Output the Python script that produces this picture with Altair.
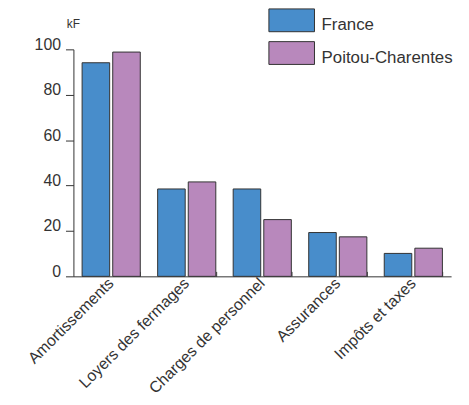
import altair as alt
import pandas as pd

categories = ["Amortissements", "Loyers des fermages", "Charges de personnel",
              "Assurances", "Impôts et taxes"]
france = [94.1, 38.5, 38.5, 19.3, 10.1]
poitou = [98.8, 41.6, 25.0, 17.4, 12.4]
series = ["France", "Poitou-Charentes"]
colors = ["#488dcb", "#b888bc"]
y_ticks = [0, 20, 40, 60, 80, 100]

rows = []
for c, f, p in zip(categories, france, poitou):
    rows.append({"cat": c, "serie": series[0], "val": f})
    rows.append({"cat": c, "serie": series[1], "val": p})
df = pd.DataFrame(rows)
tick_df = pd.DataFrame({"cat": categories})

FONT = "Liberation Sans"
TXT = "#333333"
H = 229

xscale = alt.Scale(paddingInner=0.23, paddingOuter=0.115)
yscale = alt.Scale(domain=[0, 100], nice=False)

bars = alt.Chart(df).mark_bar(stroke="#333333", strokeWidth=1).encode(
    x=alt.X("cat:N", sort=categories, scale=xscale, title=None,
            axis=alt.Axis(orient="bottom", labelAngle=-45, labelAlign="right",
                          labelBaseline="middle",
                          labelFontSize=16, labelFont=FONT, labelColor=TXT,
                          labelPadding=4, ticks=False, domainColor="#333333",
                          domainWidth=1, labelLimit=300)),
    xOffset=alt.XOffset("serie:N", sort=series, scale=alt.Scale(paddingInner=0.1)),
    y=alt.Y("val:Q", scale=yscale,
            axis=alt.Axis(values=y_ticks, title="kF", titleAngle=0, titleX=-0.5,
                          titleY=-21.6, titleAlign="center", titleBaseline="alphabetic",
                          titleFontSize=12, titleFontWeight="normal", titleFont=FONT,
                          titleColor=TXT, labelFontSize=16, labelFont=FONT,
                          labelColor=TXT, labelBaseline="alphabetic", labelPadding=5,
                          tickSize=8, tickColor="#333333", domainColor="#333333",
                          grid=False)),
    color=alt.Color("serie:N", sort=series,
                    scale=alt.Scale(domain=series, range=colors),
                    legend=alt.Legend(title=None, orient="none", legendX=196.7,
                                      legendY=-47.8,
                                      symbolType="M-1,-0.717L1,-0.717L1,0.283L-1,0.283Z",
                                      symbolSize=2116, symbolStrokeColor="#333333",
                                      symbolStrokeWidth=1, symbolOpacity=1,
                                      labelFontSize=17, labelFont=FONT,
                                      labelColor=TXT, labelOffset=6.6,
                                      rowPadding=0, labelBaseline="middle",
                                      padding=0)),
)

# inward-pointing category ticks: a top-oriented axis moved down onto the baseline
ticks = alt.Chart(tick_df).mark_point(opacity=0).encode(
    x=alt.X("cat:N", sort=categories, title=None,
            axis=alt.Axis(orient="top", offset=-H, labels=False, domain=False,
                          tickBand="extent", tickSize=5, tickColor="#333333",
                          tickWidth=1)),
)

chart = alt.layer(bars, ticks).resolve_axis(x="independent").properties(
    width=381, height=H,
    padding={"left": 66, "top": 40, "right": 10, "bottom": 120},
    autosize=alt.AutoSizeParams(type="none"),
    background="white",
).configure_view(stroke=None)

chart.save("out.html", embed_options={"renderer": "svg", "actions": False})
